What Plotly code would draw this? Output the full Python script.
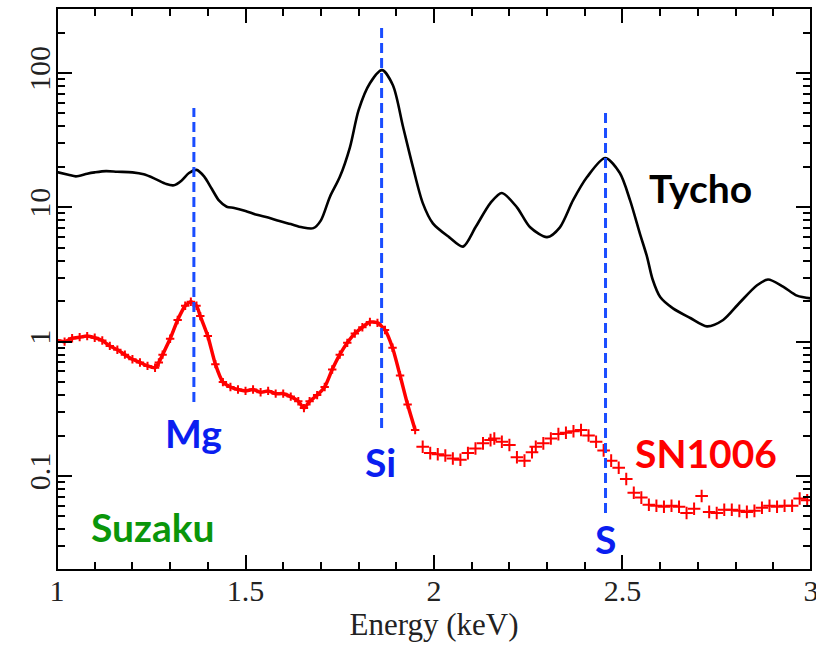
import plotly.graph_objects as go

# Tycho spectrum (keV, counts)
tycho_e = [1.00, 1.03, 1.05, 1.08, 1.10, 1.13, 1.16, 1.20, 1.23, 1.26, 1.29, 1.31, 1.33, 1.35,
           1.37, 1.39, 1.41, 1.43, 1.45, 1.47, 1.50, 1.53, 1.56, 1.59, 1.62, 1.65, 1.68, 1.70,
           1.724, 1.75, 1.777, 1.80, 1.83, 1.862, 1.891, 1.918, 1.944, 1.97, 1.997, 2.04, 2.077,
           2.11, 2.15, 2.18, 2.22, 2.255, 2.30, 2.334, 2.369, 2.406, 2.454, 2.493, 2.52, 2.546,
           2.565, 2.58, 2.60, 2.634, 2.68, 2.724, 2.767, 2.81, 2.857, 2.886, 2.926, 2.963, 3.0]
tycho_v = [18.3, 17.5, 17.0, 17.8, 18.2, 18.6, 18.4, 18.2, 17.6, 16.3, 14.9, 14.6, 15.8, 18.0,
           19.0, 17.0, 13.8, 11.2, 10.1, 9.9, 9.4, 8.8, 8.4, 7.9, 7.5, 7.1, 7.0, 8.0,
           12.0, 16.8, 28.0, 53.0, 84.0, 105.0, 81.0, 39.6, 20.0, 10.8, 7.6, 6.0, 5.1,
           7.1, 10.8, 12.8, 10.0, 7.1, 6.0, 7.1, 11.3, 16.8, 23.3, 18.0, 11.3, 6.4,
           4.3, 2.9, 2.15, 1.77, 1.5, 1.3, 1.45, 1.94, 2.63, 2.9, 2.57, 2.2, 2.1]

# SN1006 spectrum (keV, counts)
sn_e = [1.00, 1.02, 1.04, 1.06, 1.08, 1.10, 1.12, 1.14, 1.16, 1.18, 1.20, 1.22, 1.24, 1.26,
        1.27, 1.28, 1.30, 1.32, 1.34, 1.355, 1.37, 1.38, 1.40, 1.42, 1.44, 1.46, 1.48, 1.50,
        1.52, 1.54, 1.56, 1.58, 1.60, 1.62, 1.64, 1.655, 1.67, 1.69, 1.71, 1.73, 1.75, 1.77,
        1.79, 1.81, 1.83, 1.85, 1.87, 1.89, 1.91, 1.93, 1.95,
        1.97, 1.99, 2.01, 2.03, 2.05, 2.07, 2.09, 2.11, 2.13, 2.15, 2.16, 2.18, 2.20, 2.22,
        2.24, 2.26, 2.27, 2.29, 2.31, 2.33, 2.35, 2.37, 2.39, 2.41, 2.43, 2.45, 2.47, 2.49,
        2.51, 2.53, 2.55, 2.57, 2.59, 2.61, 2.63, 2.65, 2.67, 2.69, 2.71, 2.73, 2.75, 2.77,
        2.79, 2.81, 2.83, 2.85, 2.87, 2.89, 2.91, 2.93, 2.95, 2.97, 2.99]
sn_v = [1.02, 1.00, 1.06, 1.08, 1.10, 1.07, 1.02, 0.93, 0.87, 0.80, 0.74, 0.70, 0.66, 0.64,
        0.70, 0.80, 1.05, 1.45, 1.85, 1.98, 1.85, 1.55, 1.10, 0.68, 0.50, 0.46, 0.44, 0.43,
        0.44, 0.42, 0.43, 0.41, 0.41, 0.39, 0.36, 0.32, 0.36, 0.40, 0.46, 0.62, 0.80, 0.98,
        1.15, 1.28, 1.40, 1.38, 1.22, 0.90, 0.56, 0.34, 0.22,
        0.165, 0.148, 0.145, 0.142, 0.135, 0.132, 0.148, 0.160, 0.175, 0.185, 0.19, 0.18, 0.17, 0.138,
        0.130, 0.150, 0.165, 0.175, 0.19, 0.205, 0.21, 0.215, 0.22, 0.20, 0.18, 0.155, 0.13, 0.115,
        0.095, 0.075, 0.069, 0.061, 0.060, 0.059, 0.060, 0.059, 0.053, 0.057, 0.071, 0.054, 0.053, 0.056,
        0.056, 0.055, 0.054, 0.055, 0.058, 0.060, 0.059, 0.060, 0.060, 0.068, 0.066]

# Element line energies and dashed-line extents
line_names = ["Mg", "Si", "S"]
line_e = [1.363, 1.861, 2.455]
line_top = [54.8, 232.0, 54.8]
line_bot = [0.355, 0.228, 0.053]

# Axis ticks
x_ticks = [1, 1.5, 2, 2.5, 3]
x_tick_text = ["1", "1.5", "2", "2.5", "3"]
x_minor = [1.1, 1.2, 1.3, 1.4, 1.6, 1.7, 1.8, 1.9, 2.1, 2.2, 2.3, 2.4, 2.6, 2.7, 2.8, 2.9]
y_ticks = [0.1, 1, 10, 100]
y_tick_text = ["0.1", "1", "10", "100"]
y_minor_all = [m * d for d in [0.01, 0.1, 1, 10, 100] for m in range(2, 10)]

X_RANGE = [0.9999, 3.0001]
Y_RANGE_LOG = [-1.700, 2.484]
y_lo, y_hi = 10 ** Y_RANGE_LOG[0], 10 ** Y_RANGE_LOG[1]
y_minor = [v for v in y_minor_all if y_lo < v < y_hi]

DENSE_END = 1.96
MAJOR_LEN, MINOR_LEN = 15, 8

fig = go.Figure()

fig.add_trace(go.Scatter(x=tycho_e, y=tycho_v, mode="lines",
                         line=dict(color="black", width=2.6, shape="spline", smoothing=0.8),
                         showlegend=False))

dense = [i for i, e in enumerate(sn_e) if e < DENSE_END]
sparse = [i for i, e in enumerate(sn_e) if e >= DENSE_END]
fig.add_trace(go.Scatter(x=[sn_e[i] for i in dense], y=[sn_v[i] for i in dense],
                         mode="lines+markers",
                         line=dict(color="#ff0000", width=3.5, shape="spline", smoothing=0.6),
                         marker=dict(symbol="cross-thin", size=6, line=dict(color="#ff0000", width=2)),
                         showlegend=False))
fig.add_trace(go.Scatter(x=[sn_e[i] for i in sparse], y=[sn_v[i] for i in sparse],
                         mode="markers",
                         marker=dict(symbol="cross-thin", size=9, line=dict(color="#ff0000", width=2)),
                         showlegend=False))

for e, t, b in zip(line_e, line_top, line_bot):
    fig.add_trace(go.Scatter(x=[e, e], y=[b, t], mode="lines",
                             line=dict(color="#1a4dff", width=3, dash="10px,5px"),
                             showlegend=False))

# Invisible helper traces so the tick-only overlay axes get drawn
for xa, ya in [("x2", "y"), ("x3", "y"), ("x4", "y"), ("x", "y2"), ("x", "y3"), ("x", "y4")]:
    fig.add_trace(go.Scatter(x=[tycho_e[0]], y=[tycho_v[0]], xaxis=xa, yaxis=ya, mode="markers",
                             marker=dict(opacity=0), hoverinfo="skip", showlegend=False))

lab_font = "Lato"
ann = [
    dict(text="Mg", x=1.363, y=-0.681, color="#0a1ef0"),
    dict(text="Si", x=1.859, y=-0.897, color="#0a1ef0"),
    dict(text="S", x=2.456, y=-1.470, color="#0a1ef0"),
    dict(text="Tycho", x=2.708, y=1.144, color="black"),
    dict(text="SN1006", x=2.721, y=-0.830, color="#ff0000"),
    dict(text="Suzaku", x=1.255, y=-1.380, color="#0a960a"),
]
for a in ann:
    fig.add_annotation(x=a["x"], y=a["y"], xref="x", yref="y", text="<b>%s</b>" % a["text"],
                       showarrow=False, xanchor="center", yanchor="middle",
                       font=dict(family=lab_font, size=39, color=a["color"]))

# Plot frame (axis lines are off so that the inside ticks render)
fig.add_shape(type="rect", xref="paper", yref="paper", x0=0, x1=1, y0=0, y1=1,
              line=dict(color="black", width=2), fillcolor="rgba(0,0,0,0)", layer="above")

tick_common = dict(showline=False, mirror=False, ticks="inside", tickwidth=2, tickcolor="black",
                   showgrid=False, zeroline=False, automargin=False, tickmode="array")
tick_font = dict(family="Liberation Serif", size=30, color="#222")

fig.update_layout(
    width=816, height=651, margin=dict(l=57, r=5, t=8, b=81),
    paper_bgcolor="white", plot_bgcolor="white", hovermode=False,
    xaxis=dict(range=X_RANGE, tickvals=x_ticks, ticktext=x_tick_text, ticklen=MAJOR_LEN,
               ticklabeloverflow="allow", tickfont=tick_font,
               title=dict(text="Energy (keV)", standoff=4,
                          font=dict(family="Liberation Serif", size=31, color="#222")),
               **tick_common),
    xaxis2=dict(range=X_RANGE, tickvals=x_ticks, ticklen=MAJOR_LEN, overlaying="x", anchor="y",
                side="top", showticklabels=False, **tick_common),
    xaxis3=dict(range=X_RANGE, tickvals=x_minor, ticklen=MINOR_LEN, overlaying="x", anchor="y",
                side="bottom", showticklabels=False, **tick_common),
    xaxis4=dict(range=X_RANGE, tickvals=x_minor, ticklen=MINOR_LEN, overlaying="x", anchor="y",
                side="top", showticklabels=False, **tick_common),
    yaxis=dict(type="log", range=Y_RANGE_LOG, tickvals=y_ticks, ticktext=y_tick_text,
               ticklen=MAJOR_LEN, tickangle=-90, tickfont=tick_font, **tick_common),
    yaxis2=dict(type="log", range=Y_RANGE_LOG, tickvals=y_ticks, ticklen=MAJOR_LEN, overlaying="y",
                anchor="x", side="right", showticklabels=False, **tick_common),
    yaxis3=dict(type="log", range=Y_RANGE_LOG, tickvals=y_minor, ticklen=MINOR_LEN, overlaying="y",
                anchor="x", side="left", showticklabels=False, **tick_common),
    yaxis4=dict(type="log", range=Y_RANGE_LOG, tickvals=y_minor, ticklen=MINOR_LEN, overlaying="y",
                anchor="x", side="right", showticklabels=False, **tick_common),
)

fig.write_html("out.html")
